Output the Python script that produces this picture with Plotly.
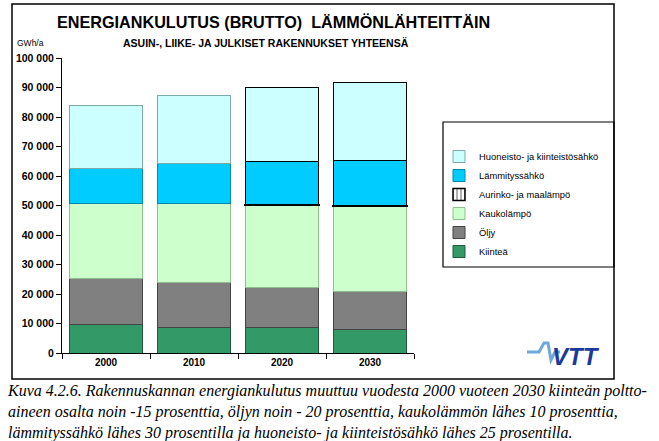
import plotly.graph_objects as go

years = ["2000", "2010", "2020", "2030"]
kiintea = [9600, 8800, 8600, 8000]
oljy = [15800, 15100, 13600, 12900]
kaukolampo = [25300, 26800, 27900, 28700]
aurinko = [0, 0, 200, 400]
lammityssahko = [11800, 13500, 14700, 15300]
huoneisto = [21500, 23200, 25000, 26400]

names = ["Kiinteä", "Öljy", "Kaukolämpö", "Aurinko- ja maalämpö",
         "Lämmityssähkö", "Huoneisto- ja kiinteistösähkö"]
fills = ["#339966", "#808080", "#CCFFCC", "#FFFFFF", "#00CCFF", "#CCFFFF"]
edges = ["#1f5a3c", "#444444", "#8fbf8f", "#000000", "#0088aa", "#7fa8a8"]
series = [kiintea, oljy, kaukolampo, aurinko, lammityssahko, huoneisto]

W, H = 659, 441
L, R, T, B = 62, 245, 58, 88
PW, PH = W - L - R, H - T - B

def px(x):
    return (x - L) / PW

def py(y):
    return (H - B - y) / PH

fig = go.Figure()
for name, vals, fc, ec in zip(names, series, fills, edges):
    dark = name in ("Huoneisto- ja kiinteistösähkö", "Lämmityssähkö")
    line_cols = [ec, ec, "#000000" if dark else ec, "#000000" if dark else ec]
    marker = dict(color=fc, line=dict(color=line_cols, width=1))
    if name.startswith("Aurinko"):
        marker = dict(color="#FFFFFF", line=dict(color="#000000", width=1.5),
                      pattern=dict(shape="|", fgcolor="#000000", bgcolor="#FFFFFF",
                                   size=5, solidity=0.3))
    fig.add_trace(go.Bar(x=years, y=vals, name=name, marker=marker))

shapes = [
    dict(type="rect", xref="paper", yref="paper", x0=px(12), x1=px(614), y0=py(379), y1=py(4),
         line=dict(color="black", width=1.5), fillcolor="rgba(0,0,0,0)", layer="below"),
    dict(type="rect", xref="paper", yref="paper", x0=px(443), x1=px(614), y0=py(267), y1=py(122),
         line=dict(color="black", width=1.2), fillcolor="rgba(0,0,0,0)"),
]
# VTT logo squiggle
pts = [(527, 352), (539, 352), (544, 343), (548, 343), (551, 360), (555, 352), (560, 352)]
path = "M " + " L ".join(f"{px(x):.5f},{py(y):.5f}" for x, y in pts)
shapes.append(dict(type="path", xref="paper", yref="paper", path=path,
                   line=dict(color="#6fa8dc", width=3)))

annotations = [
    dict(text="<b>ENERGIANKULUTUS (BRUTTO)  LÄMMÖNLÄHTEITTÄIN</b>", x=px(273), y=py(22),
         xref="paper", yref="paper", showarrow=False, xanchor="center", yanchor="middle",
         font=dict(family="Liberation Sans, Arial", size=16.2, color="black")),
    dict(text="<b>ASUIN-, LIIKE- JA JULKISET RAKENNUKSET YHTEENSÄ</b>", x=px(266), y=py(43),
         xref="paper", yref="paper", showarrow=False, xanchor="center", yanchor="middle",
         font=dict(family="Liberation Sans, Arial", size=10.5, color="black")),
    dict(text="GWh/a", x=px(15), y=py(43), xref="paper", yref="paper", showarrow=False,
         xanchor="left", yanchor="middle",
         font=dict(family="Liberation Sans, Arial", size=8.5, color="black")),
    dict(text="<b><i>VTT</i></b>", x=px(576), y=py(356), xref="paper", yref="paper",
         showarrow=False, xanchor="center", yanchor="middle",
         font=dict(family="Liberation Sans, Arial", size=24, color="#1a3a9a")),
    dict(text=("<i>Kuva 4.2.6. Rakennuskannan energiankulutus muuttuu vuodesta 2000 vuoteen 2030 kiinteän poltto-<br>"
               "aineen osalta noin -15 prosenttia, öljyn noin - 20 prosenttia, kaukolämmön lähes 10 prosenttia,<br>"
               "lämmityssähkö lähes 30 prosentilla ja huoneisto- ja kiinteistösähkö lähes 25 prosentilla.</i>"),
         x=px(5), y=py(380), xref="paper", yref="paper", showarrow=False,
         xanchor="left", yanchor="top", align="left",
         font=dict(family="Liberation Serif, Times New Roman", size=16, color="black")),
]

fig.update_layout(
    width=W, height=H,
    margin=dict(l=L, r=R, t=T, b=B),
    paper_bgcolor="white", plot_bgcolor="white",
    barmode="stack", bargap=0.16,
    separators=", ",
    font=dict(family="Liberation Sans, Arial", size=8.5, color="black"),
    showlegend=True,
    legend=dict(traceorder="reversed", x=px(439), y=py(142), xanchor="left", yanchor="top",
                bgcolor="rgba(0,0,0,0)", borderwidth=0,
                font=dict(family="Liberation Sans, Arial", size=9.4, color="black")),
    shapes=shapes, annotations=annotations,
    xaxis=dict(showline=True, linecolor="black", linewidth=1, ticks="outside", ticklen=5,
               tickson="boundaries", tickcolor="black",
               tickfont=dict(family="Liberation Sans, Arial", size=10, color="black", weight="bold"),
               showgrid=False, zeroline=False),
    yaxis=dict(range=[0, 100000], dtick=10000, tickformat=",d", showline=True, linecolor="black",
               linewidth=1, ticks="outside", ticklen=5, tickcolor="black", showgrid=False,
               zeroline=False,
               tickfont=dict(family="Liberation Sans, Arial", size=10.5, color="black", weight="bold")),
)

fig.write_html("out.html", config={"displayModeBar": False},
               post_script="document.body.style.margin='0';document.body.style.padding='0';")
